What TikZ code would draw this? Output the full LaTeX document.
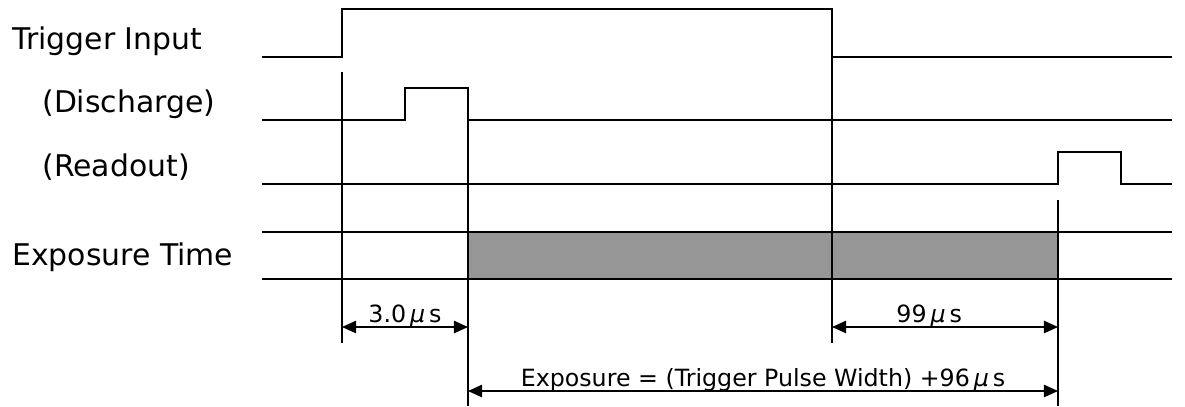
\documentclass[tikz,border=0pt]{standalone}
\usepackage{fontspec}
\setmainfont{DejaVu Sans}
\usetikzlibrary{arrows.meta}
\definecolor{bandgray}{RGB}{150,150,150}

\begin{document}
\begin{tikzpicture}[
  x=0.02cm, y=-0.02cm,
  font=\fontsize{17}{20}\selectfont,
  >={Triangle[length=8pt,width=7pt]},
  sig/.style={line width=1.1pt, line join=miter},
  tickline/.style={line width=0.9pt},
  dim/.style={<->, line width=0.9pt},
  siglabel/.style={anchor=base west, inner sep=0pt},
  dimlabel/.style={font=\fontsize{13.5}{16}\selectfont, inner sep=0pt, anchor=base, yshift=2.4pt}
]
\useasboundingbox (0,0) rectangle (1185,406);
% signal names
\node[siglabel] (trg) at (12,49) {Trigger Input};
\node[siglabel] (dis) at (42,112) {(Discharge)};
\node[siglabel] (rdo) at (42,176) {(Readout)};
\node[siglabel] (exp) at (12,265) {Exposure Time};
% exposure band
\fill[bandgray] (468,232) rectangle (1058,279);
% waveforms
\draw[sig] (262,57) -- (342,57) -- (342,9) -- (832,9) -- (832,57) -- (1172,57);
\draw[sig] (262,120) -- (405,120) -- (405,88) -- (468,88) -- (468,120) -- (1172,120);
\draw[sig] (262,184) -- (1058,184) -- (1058,152) -- (1121,152) -- (1121,184) -- (1172,184);
\draw[sig] (262,232) -- (1172,232);
\draw[sig] (262,279) -- (1172,279);
% timing marks
\coordinate (a1) at (342,327);
\coordinate (a2) at (468,327);
\coordinate (b1) at (832,327);
\coordinate (b2) at (1058,327);
\coordinate (c1) at (468,391);
\coordinate (c2) at (1058,391);
\draw[tickline] (342,72) -- (342,343);
\draw[tickline] (468,120) -- (468,406);
\draw[tickline] (832,57) -- (832,343);
\draw[tickline] (1058,200) -- (1058,406);
% dimensions
\draw[dim] (a1) -- node[dimlabel] (t1) {3.0\,{\itshape µ}\,s} (a2);
\draw[dim] (b1) -- node[dimlabel, xshift=-9pt] (t2) {99\,{\itshape µ}\,s} (b2);
\draw[dim] (c1) -- node[dimlabel] (t3) {Exposure = (Trigger Pulse Width) +96\,{\itshape µ}\,s} (c2);
\end{tikzpicture}
\end{document}
